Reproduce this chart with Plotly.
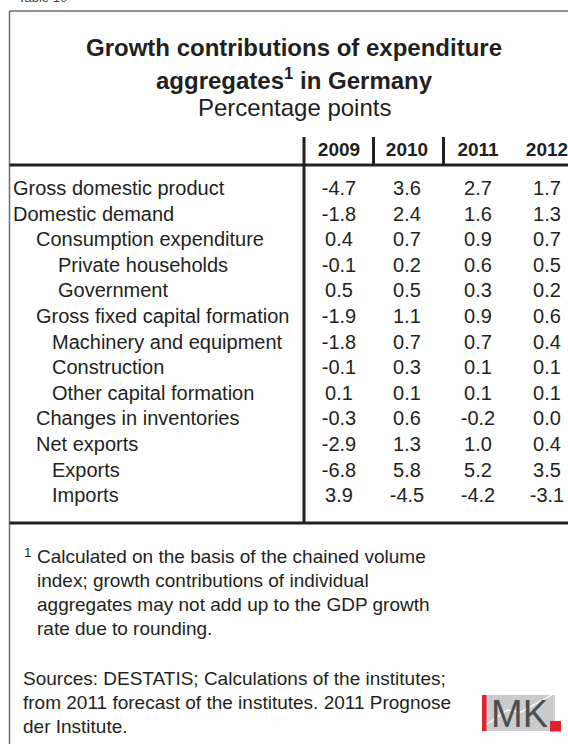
import plotly.graph_objects as go

# table content
years = ["2009", "2010", "2011", "2012"]
labels = [
    "Gross domestic product",
    "Domestic demand",
    "Consumption expenditure",
    "Private households",
    "Government",
    "Gross fixed capital formation",
    "Machinery and equipment",
    "Construction",
    "Other capital formation",
    "Changes in inventories",
    "Net exports",
    "Exports",
    "Imports",
]
levels = [0, 0, 1, 3, 3, 1, 2, 2, 2, 1, 1, 2, 2]
v2009 = [-4.7, -1.8, 0.4, -0.1, 0.5, -1.9, -1.8, -0.1, 0.1, -0.3, -2.9, -6.8, 3.9]
v2010 = [3.6, 2.4, 0.7, 0.2, 0.5, 1.1, 0.7, 0.3, 0.1, 0.6, 1.3, 5.8, -4.5]
v2011 = [2.7, 1.6, 0.9, 0.6, 0.3, 0.9, 0.7, 0.1, 0.1, -0.2, 1.0, 5.2, -4.2]
v2012 = [1.7, 1.3, 0.7, 0.5, 0.2, 0.6, 0.4, 0.1, 0.1, 0.0, 0.4, 3.5, -3.1]

table_no = "Table 10"
title_lines = ["<b>Growth contributions of expenditure</b>",
               "<b>aggregates<sup>1</sup> in Germany</b>"]
subtitle = "Percentage points"
footnote = [
    "Calculated on the basis of the chained volume",
    "index; growth contributions of individual",
    "aggregates may not add up to the GDP growth",
    "rate due to rounding.",
]
sources = [
    "Sources: DESTATIS; Calculations of the institutes;",
    "from 2011 forecast of the institutes. 2011 Prognose",
    "der Institute.",
]

W, H = 568, 744
FONT = "Liberation Sans, Arial, sans-serif"
INK = "#231f20"
GREY = "#6d6e71"

indent_x = {0: 13, 1: 36, 2: 52, 3: 58}
col_x = [339, 407, 478, 547]
row_y0, row_h = 190, 25.6
row_y = [row_y0 + i * row_h for i in range(len(labels))]

fig = go.Figure()

# row labels
fig.add_trace(go.Scatter(
    x=[indent_x[l] for l in levels], y=row_y,
    mode="text", text=labels, textposition="middle right",
    textfont=dict(family=FONT, size=20, color=INK),
    hoverinfo="skip", showlegend=False
))

# value columns
for cx, vals in zip(col_x, [v2009, v2010, v2011, v2012]):
    fig.add_trace(go.Scatter(
        x=[cx] * len(vals), y=row_y,
        mode="text", text=[f"{v:.1f}" for v in vals], textposition="middle center",
        textfont=dict(family=FONT, size=20, color=INK),
        hoverinfo="skip", showlegend=False
    ))

# year header
fig.add_trace(go.Scatter(
    x=col_x, y=[151.5] * len(years),
    mode="text", text=[f"<b>{y}</b>" for y in years], textposition="middle center",
    textfont=dict(family=FONT, size=19, color=INK),
    hoverinfo="skip", showlegend=False
))

shapes = []
# outer frame (right side runs off the page)
shapes.append(dict(type="line", x0=9.5, x1=9.5, y0=11, y1=H + 5,
                   line=dict(color=GREY, width=1.5)))
shapes.append(dict(type="line", x0=9.5, x1=W + 5, y0=11, y1=11,
                   line=dict(color=GREY, width=1.5)))
# header and body rules
shapes.append(dict(type="line", x0=9.5, x1=W + 5, y0=165, y1=165,
                   line=dict(color=INK, width=3)))
shapes.append(dict(type="line", x0=9.5, x1=W + 5, y0=523, y1=523,
                   line=dict(color=INK, width=3)))
shapes.append(dict(type="line", x0=304, x1=304, y0=137, y1=523,
                   line=dict(color=INK, width=3)))
for dx in [373.5, 443.5]:
    shapes.append(dict(type="line", x0=dx, x1=dx, y0=137, y1=165,
                       line=dict(color=INK, width=3)))

# IMK logo
shapes.append(dict(type="rect", x0=482, x1=555, y0=695, y1=731,
                   fillcolor="#c9cbcd", line=dict(width=0), layer="below"))
shapes.append(dict(type="path", path="M 486 725 L 507 710 L 521 712 L 555 693",
                   line=dict(color="white", width=1.3)))
shapes.append(dict(type="rect", x0=482, x1=486.5, y0=695, y1=731,
                   fillcolor="#e3222b", line=dict(width=0)))
shapes.append(dict(type="rect", x0=550, x1=561, y0=721, y1=731.5,
                   fillcolor="#e3222b", line=dict(width=0)))

annotations = []


def note(text, x, y, size, xanchor="left", color=INK, yanchor="middle", family=FONT):
    annotations.append(dict(text=text, x=x, y=y, xref="x", yref="y",
                            xanchor=xanchor, yanchor=yanchor, showarrow=False,
                            font=dict(family=family, size=size, color=color)))


note(table_no, 16, 7, 13, yanchor="bottom", color="#444")
note(title_lines[0], 294, 47, 24, xanchor="center")
note(title_lines[1], 294, 79, 24, xanchor="center")
note(subtitle, 294, 107.5, 24, xanchor="center")

note("<sup>1</sup>", 22, 552, 19)
for i, line in enumerate(footnote):
    note(line, 35, 556 + i * 24, 19)
for i, line in enumerate(sources):
    note(line, 21, 678 + i * 24, 19)

note("MK", 489, 714, 38, color="#4d4d4f")

fig.update_layout(
    width=W, height=H,
    margin=dict(l=0, r=0, t=0, b=0),
    paper_bgcolor="white", plot_bgcolor="white",
    xaxis=dict(range=[0, W], visible=False, fixedrange=True),
    yaxis=dict(range=[H, 0], visible=False, fixedrange=True),
    shapes=shapes,
    annotations=annotations,
    showlegend=False
)

fig.write_html("out.html", config={"displayModeBar": False},
               post_script="document.body.style.margin='0';document.body.style.overflow='hidden';")
